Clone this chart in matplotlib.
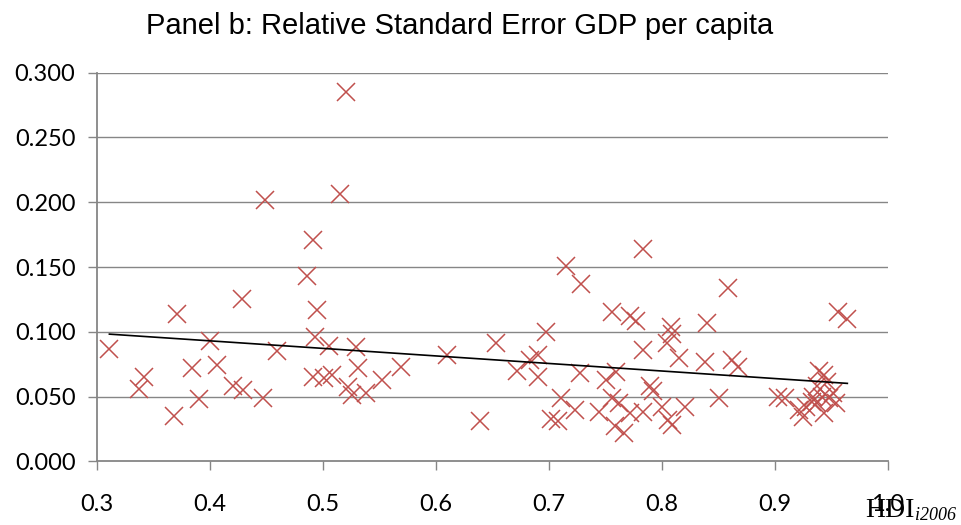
import numpy as np
import matplotlib
matplotlib.use("Agg")
from matplotlib import pyplot as plt

# HDI 2006 (x) vs relative standard error of GDP per capita (y)
hdi = [
    0.311, 0.371, 0.342, 0.337, 0.368, 0.384, 0.390, 0.400, 0.406, 0.428,
    0.420, 0.429, 0.447, 0.459, 0.449,
    0.486, 0.491, 0.495, 0.493, 0.505, 0.529, 0.569, 0.531, 0.491, 0.501,
    0.508, 0.552, 0.522, 0.526, 0.538, 0.520, 0.515,
    0.610, 0.639, 0.653, 0.697, 0.690, 0.683, 0.672, 0.690,
    0.715, 0.728, 0.756, 0.772, 0.777, 0.727, 0.750, 0.759, 0.711, 0.723,
    0.702, 0.708, 0.744, 0.756, 0.762, 0.758, 0.766, 0.783, 0.783, 0.789,
    0.792, 0.783, 0.772,
    0.808, 0.840, 0.858, 0.804, 0.809, 0.815, 0.838, 0.862, 0.867, 0.850,
    0.800, 0.820, 0.805, 0.809,
    0.956, 0.964, 0.903, 0.909, 0.925, 0.921, 0.927, 0.939, 0.943, 0.946,
    0.937, 0.934, 0.942, 0.948, 0.954, 0.943, 0.937, 0.951, 0.933,
]
rse = [
    0.087, 0.114, 0.065, 0.056, 0.035, 0.072, 0.048, 0.093, 0.074, 0.125,
    0.058, 0.055, 0.049, 0.085, 0.202,
    0.143, 0.171, 0.117, 0.096, 0.089, 0.088, 0.073, 0.072, 0.065, 0.064,
    0.067, 0.063, 0.057, 0.051, 0.053, 0.285, 0.206,
    0.082, 0.031, 0.091, 0.100, 0.082, 0.078, 0.070, 0.065,
    0.151, 0.137, 0.115, 0.112, 0.108, 0.068, 0.063, 0.069, 0.049, 0.040,
    0.033, 0.031, 0.038, 0.049, 0.045, 0.027, 0.022, 0.164, 0.086, 0.058,
    0.054, 0.038, 0.037,
    0.104, 0.107, 0.134, 0.091, 0.098, 0.080, 0.077, 0.078, 0.073, 0.049,
    0.042, 0.042, 0.032, 0.028,
    0.115, 0.110, 0.050, 0.049, 0.034, 0.040, 0.042, 0.070, 0.067, 0.061,
    0.058, 0.050, 0.050, 0.049, 0.045, 0.037, 0.045, 0.053, 0.046,
]

x_ticks = [0.3, 0.4, 0.5, 0.6, 0.7, 0.8, 0.9, 1.0]
y_ticks = [0.0, 0.05, 0.10, 0.15, 0.20, 0.25, 0.30]

grey = "#868686"

fig = plt.figure(figsize=(9.62, 5.25), dpi=100)
ax = fig.add_axes([0.1008, 0.1213, 0.8223, 0.7402])

for y in y_ticks[1:]:
    ax.axhline(y, color=grey, lw=1.0, zorder=1)

ax.plot(hdi, rse, linestyle="none", marker="x", markersize=13.5,
        markeredgewidth=1.1, color="#C0504D", zorder=3)

# linear trend line over the data range
coef = np.polyfit(hdi, rse, 1)
xs = np.array([min(hdi), max(hdi)])
ax.plot(xs, np.polyval(coef, xs), color="black", lw=1.2, zorder=4)

ax.set_xlim(0.3, 1.0)
ax.set_ylim(0.0, 0.3)
ax.set_xticks(x_ticks)
ax.set_xticklabels([f"{v:.1f}" for v in x_ticks])
ax.set_yticks(y_ticks)
ax.set_yticklabels([f"{v:.3f}" for v in y_ticks])

for side in ["top", "right"]:
    ax.spines[side].set_visible(False)
for side in ["left", "bottom"]:
    ax.spines[side].set_color(grey)
    ax.spines[side].set_linewidth(1.3)

ax.tick_params(axis="both", direction="out", length=6.5, width=1.0, color=grey,
               labelsize=17)
ax.tick_params(axis="y", pad=9)
ax.tick_params(axis="x", pad=17)
for lab in ax.get_xticklabels() + ax.get_yticklabels():
    lab.set_fontfamily("Lato")

fig.text(0.478, 0.950, "Panel b: Relative Standard Error GDP per capita",
         ha="center", va="center", fontsize=21, family="Liberation Sans")

# axis label "HDI" with italic subscript, sitting on top of the 1.0 tick label
fig.text(0.899, 0.015, "HDI", ha="left", va="baseline",
         fontsize=20, family="Liberation Serif")
fig.text(0.951, 0.010, "i2006", ha="left", va="baseline",
         fontsize=13, family="Liberation Serif", style="italic")

fig.savefig("out.png", dpi=100)
plt.close(fig)
